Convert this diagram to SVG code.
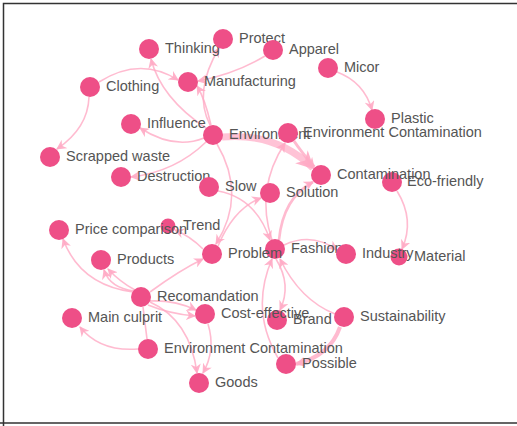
<svg xmlns="http://www.w3.org/2000/svg" width="517" height="426" viewBox="0 0 517 426">
  <style>
    .edge { fill: none; stroke: #ffaac4; stroke-opacity: 0.8; stroke-width: 1.6; marker-end: url(#arr); }
    .plain { marker-end: none; }
    .node circle { fill: #ee4f87; }
    .node text { font-family: "Liberation Sans", Arial, sans-serif; font-size: 14.5px; fill: #555; }
  </style>
  <defs>
    <marker id="arr" viewBox="0 0 10 10" refX="9" refY="5" markerWidth="10" markerHeight="10" markerUnits="userSpaceOnUse" orient="auto">
      <path d="M0,0 L10,5 L0,10 L3,5 Z" fill="#ffaac4" fill-opacity="0.9"/>
    </marker>
    <marker id="arrBig" viewBox="0 0 10 10" refX="9" refY="5" markerWidth="18" markerHeight="18" markerUnits="userSpaceOnUse" orient="auto">
      <path d="M0,0 L10,5 L0,10 L3,5 Z" fill="#ffaac4" fill-opacity="0.9"/>
    </marker>
  </defs>

  <!-- frame -->
  <path d="M3.5,426 V3.5 H517 M0,423 H517" fill="none" stroke="#333" stroke-width="1.5"/>

  <g id="connectors">
    <path class="edge" d="M99,82 Q140,56 178,80"/>
    <path class="edge" d="M89,97 Q88,128 57,149"/>
    <path class="edge" d="M206,128 Q161,98 151,59"/>
    <path class="edge" d="M211,125 Q205,99 197,86"/>
    <path class="edge" d="M210,125 Q193,92 219,48"/>
    <path class="edge" d="M265,56 Q235,74 198,81"/>
    <path class="edge" d="M337,72 Q364,82 372,110"/>
    <path class="edge" d="M204,138 Q174,150 140,128"/>
    <path class="edge" d="M206,142 Q175,172 131,177"/>
    <path class="edge" d="M222,137 Q276,132 313,168" style="stroke-width:7;stroke-opacity:0.7;marker-end:url(#arrBig)"/>
    <path class="edge" d="M294,141 Q300,150 314,167" style="stroke-width:3"/>
    <path class="edge" d="M217,144 Q247,195 216,244"/>
    <path class="edge" d="M218,191 Q256,198 270,240"/>
    <path class="edge" d="M218,246 Q234,208 261,198"/>
    <path class="edge" d="M272,240 Q255,189 285,143"/>
    <path class="edge" d="M279,240 Q283,198 313,182" style="stroke-width:2.6"/>
    <path class="edge" d="M284,245 Q312,232 337,250"/>
    <path class="edge" d="M397,191 Q415,220 402,249"/>
    <path class="edge" d="M203,249 Q190,236 175,230"/>
    <path class="edge" d="M133,292 Q80,285 63,239"/>
    <path class="edge" d="M134,291 Q110,288 104,270"/>
    <path class="edge" d="M135,290 Q120,282 108,269"/>
    <path class="edge" d="M150,292 Q180,270 203,259"/>
    <path class="edge" d="M150,301 Q175,300 196,310"/>
    <path class="edge" d="M148,305 Q170,314 195,316"/>
    <path class="edge" d="M150,302 Q190,320 197,373"/>
    <path class="edge" d="M208,324 Q216,350 203,373"/>
    <path class="edge plain" d="M143,307 L147,339"/>
    <path class="edge" d="M138,349 Q100,352 80,327"/>
    <path class="edge" d="M340,327 Q330,356 296,364" style="stroke-width:4"/>
    <path class="edge" d="M335,314 Q300,300 280,259"/>
    <path class="edge" d="M278,358 Q250,310 272,259"/>
    <path class="edge" d="M276,259 Q292,285 280,310"/>
  </g>

  <g id="thinking" class="node"><circle cx="149" cy="49" r="10"/><text x="165" y="53">Thinking</text></g>
  <g id="protect" class="node"><circle cx="223" cy="39" r="10"/><text x="239" y="43">Protect</text></g>
  <g id="apparel" class="node"><circle cx="273" cy="50" r="10"/><text x="289" y="54">Apparel</text></g>
  <g id="micor" class="node"><circle cx="328" cy="68" r="10"/><text x="344" y="72">Micor</text></g>
  <g id="manufacturing" class="node"><circle cx="188" cy="82" r="10"/><text x="204" y="86">Manufacturing</text></g>
  <g id="clothing" class="node"><circle cx="90" cy="87" r="10"/><text x="106" y="91">Clothing</text></g>
  <g id="plastic" class="node"><circle cx="375" cy="119" r="10"/><text x="391" y="123">Plastic</text></g>
  <g id="influence" class="node"><circle cx="131" cy="124" r="10"/><text x="147" y="128">Influence</text></g>
  <g id="environment" class="node"><circle cx="213" cy="135" r="10"/><text x="229" y="139">Environment</text></g>
  <g id="env-contamination-1" class="node"><circle cx="288" cy="133" r="10"/><text x="303" y="137">Environment Contamination</text></g>
  <g id="scrapped-waste" class="node"><circle cx="50" cy="157" r="10"/><text x="66" y="161">Scrapped waste</text></g>
  <g id="destruction" class="node"><circle cx="121" cy="177" r="10"/><text x="137" y="181">Destruction</text></g>
  <g id="eco-friendly" class="node"><circle cx="392" cy="182" r="10"/><text x="407" y="186">Eco-friendly</text></g>
  <g id="contamination" class="node"><circle cx="321" cy="175" r="10"/><text x="337" y="179">Contamination</text></g>
  <g id="slow" class="node"><circle cx="209" cy="187" r="10"/><text x="225" y="191">Slow</text></g>
  <g id="solution" class="node"><circle cx="270" cy="193" r="10"/><text x="286" y="197">Solution</text></g>
  <g id="trend" class="node"><circle cx="168" cy="226" r="7.5"/><text x="183" y="230">Trend</text></g>
  <g id="price-comparison" class="node"><circle cx="59" cy="230" r="10"/><text x="75" y="234">Price comparison</text></g>
  <g id="fashion" class="node"><circle cx="275" cy="249" r="10"/><text x="291" y="253">Fashion</text></g>
  <g id="problem" class="node"><circle cx="212" cy="254" r="10"/><text x="228" y="258">Problem</text></g>
  <g id="material" class="node"><circle cx="399" cy="257" r="8.5"/><text x="414" y="261">Material</text></g>
  <g id="industry" class="node"><circle cx="346" cy="254" r="10"/><text x="362" y="258">Industry</text></g>
  <g id="products" class="node"><circle cx="101" cy="260" r="10"/><text x="117" y="264">Products</text></g>
  <g id="recomandation" class="node"><circle cx="141" cy="297" r="10"/><text x="157" y="301">Recomandation</text></g>
  <g id="main-culprit" class="node"><circle cx="72" cy="318" r="10"/><text x="88" y="322">Main culprit</text></g>
  <g id="brand" class="node"><circle cx="277" cy="320" r="10"/><text x="293" y="324">Brand</text></g>
  <g id="cost-effective" class="node"><circle cx="205" cy="314" r="10"/><text x="221" y="318">Cost-effective</text></g>
  <g id="sustainability" class="node"><circle cx="344" cy="317" r="10"/><text x="360" y="321">Sustainability</text></g>
  <g id="env-contamination-2" class="node"><circle cx="148" cy="349" r="10"/><text x="164" y="353">Environment Contamination</text></g>
  <g id="possible" class="node"><circle cx="286" cy="364" r="10"/><text x="302" y="368">Possible</text></g>
  <g id="goods" class="node"><circle cx="199" cy="383" r="10"/><text x="215" y="387">Goods</text></g>
</svg>
